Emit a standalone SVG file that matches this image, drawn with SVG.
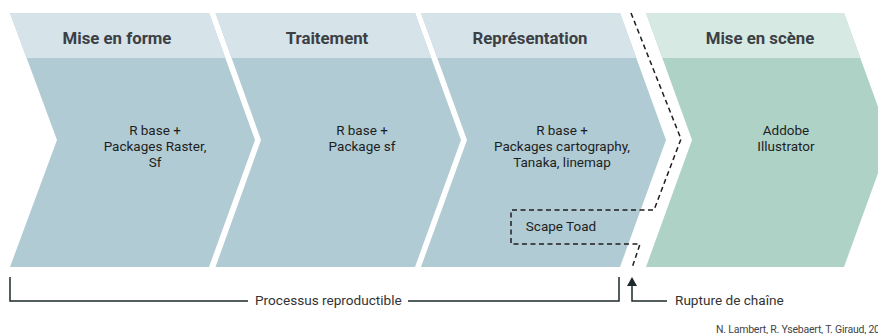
<svg xmlns="http://www.w3.org/2000/svg" width="878" height="334" viewBox="0 0 878 334">
<style>
.body{fill:#b0cbd4}
.head{fill:#d6e3e9}
.gbody{fill:#afd2c7}
.ghead{fill:#d6e9e3}
.title{font-family:Roboto,"Liberation Sans",sans-serif;font-weight:bold;font-size:16.8px;fill:#3b4045;text-anchor:middle}
.txt{font-family:Roboto,"Liberation Sans",sans-serif;font-size:13.5px;fill:#1e1e1e;text-anchor:middle}
.lab{font-family:Roboto,"Liberation Sans",sans-serif;font-size:13.6px;fill:#333}
.dash{fill:none;stroke:#1e1e1e;stroke-width:1.5;stroke-dasharray:5 3.5}
.line{fill:none;stroke:#1e2a2a;stroke-width:1.5}
</style>
<defs>
<clipPath id="hc"><rect x="0" y="13" width="878" height="45"/></clipPath>
</defs>
<g id="node1">
<path class="body" d="M10,13 L209,13 L255,140 L209,267 L10,267 L57,140 Z"/>
<path class="head" clip-path="url(#hc)" d="M10,13 L209,13 L255,140 L209,267 L10,267 L57,140 Z"/>
<text class="title" x="117" y="44">Mise en forme</text>
<text class="txt" x="155" y="135">R base +</text>
<text class="txt" x="155" y="151">Packages Raster,</text>
<text class="txt" x="155" y="167">Sf</text>
</g>
<g id="node2">
<path class="body" d="M215.5,13 L415,13 L461,140 L415,267 L215.5,267 L261,140 Z"/>
<path class="head" clip-path="url(#hc)" d="M215.5,13 L415,13 L461,140 L415,267 L215.5,267 L261,140 Z"/>
<text class="title" x="327" y="44">Traitement</text>
<text class="txt" x="362" y="135">R base +</text>
<text class="txt" x="362" y="151">Package sf</text>
</g>
<g id="node3">
<path class="body" d="M421,13 L620,13 L666,140 L620,267 L421,267 L467,140 Z"/>
<path class="head" clip-path="url(#hc)" d="M421,13 L620,13 L666,140 L620,267 L421,267 L467,140 Z"/>
<text class="title" x="530" y="44">Représentation</text>
<text class="txt" x="562" y="135">R base +</text>
<text class="txt" x="562" y="151">Packages cartography,</text>
<text class="txt" x="562" y="167">Tanaka, linemap</text>
</g>
<g id="node4">
<path class="gbody" d="M646,13 L844,13 L890,140 L844,267 L646,267 L692,140 Z"/>
<path class="ghead" clip-path="url(#hc)" d="M646,13 L844,13 L890,140 L844,267 L646,267 L692,140 Z"/>
<text class="title" x="760" y="44">Mise en scène</text>
<text class="txt" x="786" y="135">Addobe</text>
<text class="txt" x="786" y="151">Illustrator</text>
</g>
<g id="scapetoad">
<text class="txt" x="561" y="231">Scape Toad</text>
</g>
<g id="connectors">
<path class="dash" d="M631,13 L681,139 L654,210 L511,210 L511,244 L640,244 L632,268"/>
<path class="line" d="M10,277 L10,301 L248,301"/>
<path class="line" d="M408,301 L619,301 L619,277"/>
<path class="line" d="M667,301 L632,301 L632,284"/>
<path d="M627,286 L632,277 L637,286 Z" fill="#1e2a2a"/>
</g>
<g id="labels">
<text class="lab" x="255" y="305">Processus reproductible</text>
<text class="lab" x="675" y="305">Rupture de chaîne</text>
<text x="716" y="333" textLength="164" lengthAdjust="spacing" style="font-family:Roboto,'Liberation Sans',sans-serif;font-size:10.5px;fill:#444">N. Lambert, R. Ysebaert, T. Giraud, 20</text>
</g>
</svg>
